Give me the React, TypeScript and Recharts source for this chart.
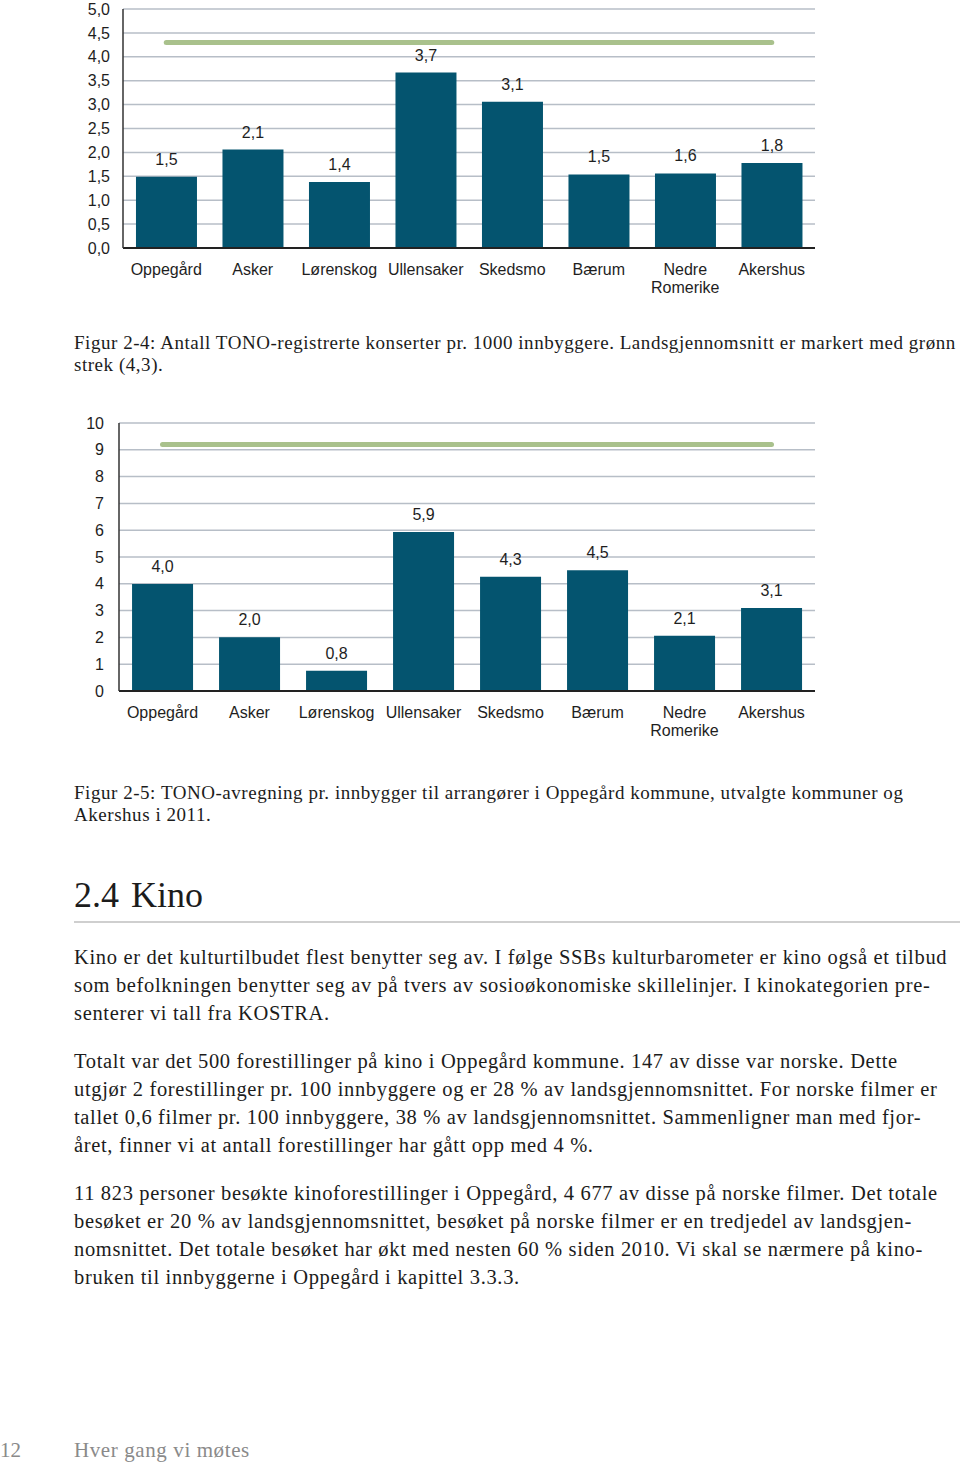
import React from 'react';
import { ComposedChart, Bar, Line, XAxis, YAxis, CartesianGrid, LabelList } from 'recharts';

const kommuner = ['Oppegård', 'Asker', 'Lørenskog', 'Ullensaker', 'Skedsmo', 'Bærum', 'Nedre Romerike', 'Akershus'];

// Figur 2-4: TONO-registrerte konserter pr. 1000 innbyggere
const konserter = [1.49, 2.06, 1.38, 3.67, 3.06, 1.54, 1.56, 1.78];
const konserterSnitt = 4.3;
const konserterTicks = [0, 0.5, 1, 1.5, 2, 2.5, 3, 3.5, 4, 4.5, 5];

// Figur 2-5: TONO-avregning pr. innbygger
const avregning = [3.99, 2.01, 0.76, 5.93, 4.26, 4.51, 2.06, 3.1];
const avregningSnitt = 9.2;
const avregningTicks = [0, 1, 2, 3, 4, 5, 6, 7, 8, 9, 10];

const BAR = '#04546f';
const GREEN = '#a9c18c';
const GRID = '#b7bec7';
const SANS = 'Liberation Sans, Arial, Helvetica, sans-serif';
const SERIF = '"Liberation Serif", "Times New Roman", serif';

const comma = (v: number, d: number) => v.toFixed(d).replace('.', ',');

const CategoryTick = (props: any) => {
  const { x, y, payload } = props;
  const lines = String(payload.value).split(' ');
  return (
    <text x={x} y={y} textAnchor="middle" fill="#1e1e1e" fontSize={16} fontFamily={SANS}>
      {lines.map((l, i) => (
        <tspan key={i} x={x} dy={i === 0 ? 25 : 18}>{l}</tspan>
      ))}
    </text>
  );
};

interface BarPanelProps {
  values: number[];
  snitt: number;
  ticks: number[];
  tickDigits: number;
  width: number;
  height: number;
  top: number;
  axisWidth: number;
  tickGap: number;
}

const BarPanel: React.FC<BarPanelProps> = ({ values, snitt, ticks, tickDigits, width, height, top, axisWidth, tickGap }) => {
  const data = kommuner.map((k, i) => ({ name: k, value: values[i], snitt }));
  return (
    <ComposedChart width={width} height={height} data={data} margin={{ top, right: 15, left: 0, bottom: 0 }} barCategoryGap="15%">
      <CartesianGrid vertical={false} stroke={GRID} strokeWidth={1.5} />
      <XAxis
        dataKey="name"
        interval={0}
        height={52}
        tickLine={false}
        tickSize={0}
        axisLine={{ stroke: '#222', strokeWidth: 2 }}
        tick={<CategoryTick />}
      />
      <YAxis
        domain={[ticks[0], ticks[ticks.length - 1]]}
        ticks={ticks}
        width={axisWidth}
        tickLine={false}
        tickSize={0}
        tickMargin={tickGap}
        axisLine={{ stroke: '#333', strokeWidth: 1.5 }}
        tickFormatter={(v: number) => comma(v, tickDigits)}
        tick={{ fill: '#1e1e1e', fontSize: 16, fontFamily: SANS }}
      />
      <Bar dataKey="value" fill={BAR} isAnimationActive={false}>
        <LabelList
          dataKey="value"
          position="top"
          offset={12}
          formatter={(v: number) => comma(v, 1)}
          style={{ fill: '#1e1e1e', fontSize: 16, fontFamily: SANS }}
        />
      </Bar>
      <Line
        dataKey="snitt"
        stroke={GREEN}
        strokeWidth={5}
        strokeLinecap="round"
        dot={false}
        activeDot={false}
        isAnimationActive={false}
      />
    </ComposedChart>
  );
};

const captionStyle: React.CSSProperties = { fontFamily: SERIF, fontSize: 19, letterSpacing: 0.54, color: '#1c1c1c', lineHeight: '22px', whiteSpace: 'nowrap' };
const bodyStyle: React.CSSProperties = { fontFamily: SERIF, fontSize: 20.5, letterSpacing: 0.66, color: '#1c1c1c', lineHeight: '28px', whiteSpace: 'nowrap' };

const Lines: React.FC<{ lines: string[]; style: React.CSSProperties; top: number }> = ({ lines, style, top }) => (
  <div style={{ position: 'absolute', left: 74, top, ...style }}>
    {lines.map((l, i) => <div key={i}>{l}</div>)}
  </div>
);

const caption1 = [
  'Figur 2-4: Antall TONO-registrerte konserter pr. 1000 innbyggere. Landsgjennomsnitt er markert med grønn',
  'strek (4,3).',
];
const caption2 = [
  'Figur 2-5: TONO-avregning pr. innbygger til arrangører i Oppegård kommune, utvalgte kommuner og',
  'Akershus i 2011.',
];
const para1 = [
  'Kino er det kulturtilbudet flest benytter seg av. I følge SSBs kulturbarometer er kino også et tilbud',
  'som befolkningen benytter seg av på tvers av sosioøkonomiske skillelinjer. I kinokategorien pre-',
  'senterer vi tall fra KOSTRA.',
];
const para2 = [
  'Totalt var det 500 forestillinger på kino i Oppegård kommune. 147 av disse var norske. Dette',
  'utgjør 2 forestillinger pr. 100 innbyggere og er 28 % av landsgjennomsnittet. For norske filmer er',
  'tallet 0,6 filmer pr. 100 innbyggere, 38 % av landsgjennomsnittet. Sammenligner man med fjor-',
  'året, finner vi at antall forestillinger har gått opp med 4 %.',
];
const para3 = [
  '11 823 personer besøkte kinoforestillinger i Oppegård, 4 677 av disse på norske filmer. Det totale',
  'besøket er 20 % av landsgjennomsnittet, besøket på norske filmer er en tredjedel av landsgjen-',
  'nomsnittet. Det totale besøket har økt med nesten 60 % siden 2010. Vi skal se nærmere på kino-',
  'bruken til innbyggerne i Oppegård i kapittel 3.3.3.',
];

export default function App() {
  return (
    <div style={{ position: 'absolute', left: 0, top: 0, width: 960, height: 1462, background: '#fff', overflow: 'hidden' }}>
      <div style={{ position: 'absolute', left: 60, top: 0 }}>
        <BarPanel values={konserter} snitt={konserterSnitt} ticks={konserterTicks} tickDigits={1}
          width={770} height={300} top={9} axisWidth={63} tickGap={13} />
      </div>
      <Lines lines={caption1} style={captionStyle} top={332} />

      <div style={{ position: 'absolute', left: 60, top: 410 }}>
        <BarPanel values={avregning} snitt={avregningSnitt} ticks={avregningTicks} tickDigits={0}
          width={770} height={333} top={13} axisWidth={59} tickGap={15} />
      </div>
      <Lines lines={caption2} style={captionStyle} top={782} />

      <div style={{ position: 'absolute', left: 74, top: 873, fontFamily: SERIF, fontSize: 36, color: '#1c1c1c', whiteSpace: 'nowrap', lineHeight: '44px' }}>
        <span>2.4</span><span style={{ marginLeft: 12 }}>Kino</span>
      </div>
      <div style={{ position: 'absolute', left: 74, top: 921, width: 886, height: 2, background: '#cfcfcf' }} />

      <Lines lines={para1} style={bodyStyle} top={943} />
      <Lines lines={para2} style={bodyStyle} top={1047} />
      <Lines lines={para3} style={bodyStyle} top={1179} />

      <div style={{ position: 'absolute', left: 0, top: 1438, fontFamily: SERIF, fontSize: 21, color: '#8a8a8a', whiteSpace: 'nowrap' }}>12</div>
      <div style={{ position: 'absolute', left: 74, top: 1438, fontFamily: SERIF, fontSize: 21, letterSpacing: 0.6, color: '#8a8a8a', whiteSpace: 'nowrap' }}>Hver gang vi møtes</div>
    </div>
  );
}
